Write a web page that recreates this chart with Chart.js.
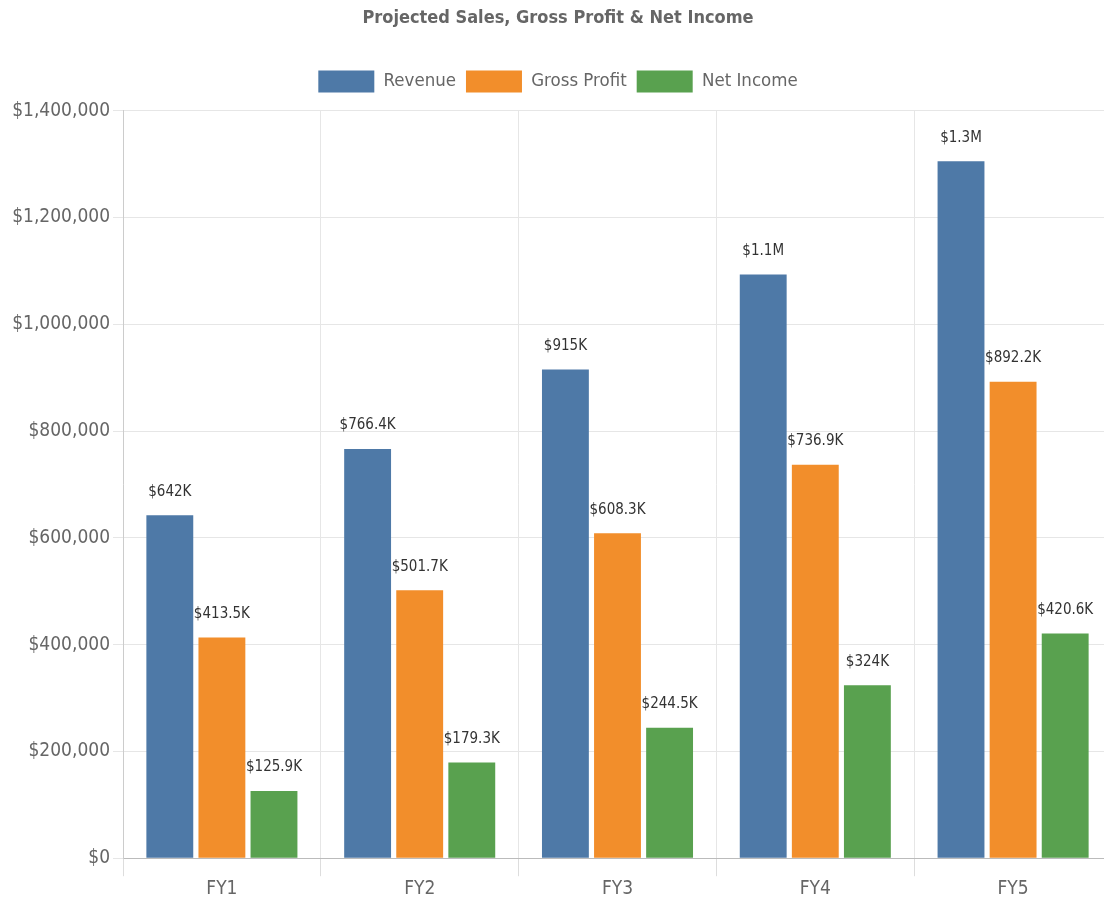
<!DOCTYPE html>
<html>
<head>
<meta charset="utf-8">
<title>Projected Sales, Gross Profit & Net Income</title>
<script src="https://cdn.jsdelivr.net/npm/chart.js@4.4.1/dist/chart.umd.min.js"></script>
<style>
    html, body { margin: 0; padding: 0; background: #fff; overflow: hidden; }
    #wrap { width: 1112px; height: 903px; }
</style>
</head>
<body>
<div id="wrap"><canvas id="chart" width="1112" height="903"></canvas></div>
<script>
// Données du graphique
const categories = ['FY1', 'FY2', 'FY3', 'FY4', 'FY5'];
const seriesNames = ['Revenue', 'Gross Profit', 'Net Income'];
const revenue = [642000, 766400, 915000, 1093000, 1305000];
const grossProfit = [413500, 501700, 608300, 736900, 892200];
const netIncome = [125900, 179300, 244500, 324000, 420600];
const yTicks = [0, 200000, 400000, 600000, 800000, 1000000, 1200000, 1400000];

const couleurs = ['#4E79A7', '#F28E2B', '#59A14F'];
const police = "'DejaVu Sans Condensed', 'Liberation Sans Narrow', 'DejaVu Sans', sans-serif";

// Format des étiquettes au-dessus des barres
function formatCourt(v) {
    if (v >= 1000000) {
        return '$' + parseFloat((v / 1000000).toFixed(1)) + 'M';
    }
    return '$' + parseFloat((v / 1000).toFixed(1)) + 'K';
}

// Plugin maison pour les étiquettes de valeur
const etiquettesPlugin = {
    id: 'etiquettes',
    afterDatasetsDraw(chart) {
        const ctx = chart.ctx;
        ctx.save();
        ctx.font = '15px ' + police;
        ctx.fillStyle = '#333';
        ctx.textAlign = 'center';
        ctx.textBaseline = 'bottom';
        chart.data.datasets.forEach((ds, i) => {
            const meta = chart.getDatasetMeta(i);
            meta.data.forEach((bar, j) => {
                ctx.fillText(formatCourt(ds.data[j]), bar.x, bar.y - 16);
            });
        });
        ctx.restore();
    }
};

// Un peu plus d'espace sous la légende
const espaceLegende = {
    id: 'espaceLegende',
    beforeInit(chart) {
        const fitOrig = chart.legend.fit;
        chart.legend.fit = function () {
            fitOrig.bind(chart.legend)();
            this.height += 8;
        };
    }
};

const ctx = document.getElementById('chart').getContext('2d');
new Chart(ctx, {
    type: 'bar',
    data: {
        labels: categories,
        datasets: [revenue, grossProfit, netIncome].map((d, i) => ({
            label: seriesNames[i],
            data: d,
            backgroundColor: couleurs[i],
            borderColor: couleurs[i],
            borderWidth: 0,
            categoryPercentage: 0.79,
            barPercentage: 0.9
        }))
    },
    options: {
        responsive: false,
        animation: false,
        layout: { padding: { top: 6, left: 4, right: 0, bottom: 2 } },
        plugins: {
            title: {
                display: true,
                text: 'Projected Sales, Gross Profit & Net Income',
                color: '#666',
                font: { family: police, size: 18, weight: 'bold' },
                padding: { top: 2, bottom: 31 }
            },
            legend: {
                labels: {
                    boxWidth: 56,
                    boxHeight: 22,
                    color: '#666',
                    font: { family: police, size: 18.5 },
                    padding: 10
                }
            },
            tooltip: { enabled: false }
        },
        scales: {
            x: {
                grid: { color: '#e6e6e6', tickLength: 18, tickColor: '#ddd' },
                border: { color: '#bbb' },
                ticks: { color: '#666', font: { family: police, size: 19 }, padding: 1 }
            },
            y: {
                min: 0,
                max: 1400000,
                afterFit: (scale) => { scale.width = 119; },
                afterBuildTicks: (scale) => { scale.ticks = yTicks.map(v => ({ value: v })); },
                grid: { color: '#e6e6e6', tickLength: 10 },
                border: { color: '#ccc' },
                ticks: {
                    color: '#666',
                    font: { family: police, size: 19 },
                    padding: 3,
                    callback: (v) => '$' + v.toLocaleString('en-US')
                }
            }
        }
    },
    plugins: [etiquettesPlugin, espaceLegende]
});
</script>
</body>
</html>
